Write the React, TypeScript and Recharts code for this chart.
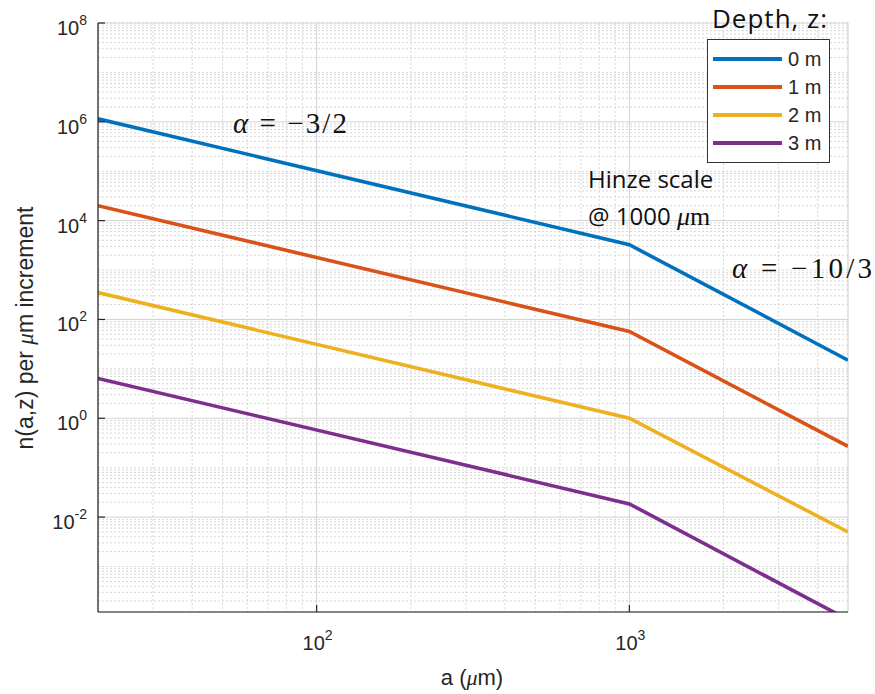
import React from 'react';
import {
  CartesianGrid,
  Customized,
  Legend,
  Line,
  LineChart,
  XAxis,
  YAxis,
} from 'recharts';

// droplet size a (µm) at the ends and at the Hinze break
const sizes = [20, 1000, 5000];

// n(a,z) per µm increment, one list per depth
const depth0 = [1.15e6, 3.25e3, 15];
const depth1 = [2.0e4, 57, 0.27];
const depth2 = [350, 1.0, 0.005];
const depth3 = [6.4, 0.0185, 8.4e-5];

const depthNames = ['0 m', '1 m', '2 m', '3 m'];
const depthColors = ['#0072BD', '#D95319', '#EDB120', '#7E2F8E'];

const xMajorTicks = [100, 1000];
const yMajorTicks = [1e-2, 1, 1e2, 1e4, 1e6, 1e8];

const xDomain = [20, 5000];
const yDomain = [1.2e-4, 1e8];

// minor ticks: every 1..9 multiple of each decade that is not a labelled tick
const minorMults = [1, 2, 3, 4, 5, 6, 7, 8, 9];
const xDecades = [10, 100, 1000];
const yDecades = [1e-4, 1e-3, 1e-2, 1e-1, 1, 10, 1e2, 1e3, 1e4, 1e5, 1e6, 1e7];

const minorTicks = (decades: number[], majors: number[], lo: number, hi: number) =>
  decades
    .flatMap((d) => minorMults.map((m) => m * d))
    .filter((v) => v >= lo * 0.999 && v <= hi * 1.001)
    .filter((v) => !majors.some((t) => Math.abs(v / t - 1) < 1e-6));

const xMinorTicks = minorTicks(xDecades, xMajorTicks, xDomain[0], xDomain[1]);
const yMinorTicks = minorTicks(yDecades, yMajorTicks, yDomain[0], yDomain[1]);

const data = sizes.map((a, i) => ({
  a,
  d0: depth0[i],
  d1: depth1[i],
  d2: depth2[i],
  d3: depth3[i],
}));

const INK = '#262626';
const SANS = '"Liberation Sans", Arial, sans-serif';
const SERIF = '"Liberation Serif", "DejaVu Serif", serif';
const NOTE = '"Open Sans", "Noto Sans", sans-serif';

const exponent = (v: number) => String(Math.round(Math.log10(v)));

function YMajorTick({ x, y, payload }: any) {
  return (
    <g>
      <line x1={x} x2={x + 7} y1={y} y2={y} stroke={INK} strokeWidth={1.2} />
      <text x={x - 11} y={y + 12} textAnchor="end" fontFamily={SANS} fontSize={20} fill={INK}>
        10
        <tspan dy={-10} fontSize={14}>
          {exponent(payload.value)}
        </tspan>
      </text>
    </g>
  );
}

function XMajorTick({ x, y, payload }: any) {
  return (
    <g>
      <line x1={x} x2={x} y1={y} y2={y - 7} stroke={INK} strokeWidth={1.2} />
      <text x={x + 1} y={y + 38} textAnchor="middle" fontFamily={SANS} fontSize={20} fill={INK}>
        10
        <tspan dy={-10} fontSize={14}>
          {exponent(payload.value)}
        </tspan>
      </text>
    </g>
  );
}

function YMinorTick({ x, y }: any) {
  return <line x1={x} x2={x + 4} y1={y} y2={y} stroke={INK} strokeWidth={1} />;
}

function XMinorTick({ x, y }: any) {
  return <line x1={x} x2={x} y1={y} y2={y - 4} stroke={INK} strokeWidth={1} />;
}

function DepthLegend({ payload }: any) {
  return (
    <div style={{ position: 'relative', width: 140, height: 160 }}>
      <div
        style={{
          position: 'absolute',
          left: 12,
          top: 1,
          fontFamily: NOTE,
          fontSize: 26,
          lineHeight: '34px',
          letterSpacing: 1,
          color: '#111',
          whiteSpace: 'nowrap',
        }}
      >
        Depth, z:
      </div>
      <div
        style={{
          position: 'absolute',
          left: 7,
          top: 39,
          width: 121,
          height: 117,
          border: '1px solid #333',
          background: '#fff',
          paddingTop: 5,
          boxSizing: 'content-box',
        }}
      >
        {(payload || []).map((p: any) => (
          <div key={p.value} style={{ display: 'flex', alignItems: 'center', height: 28 }}>
            <div style={{ marginLeft: 5, width: 69, height: 4, background: p.color }} />
            <span
              style={{
                marginLeft: 6,
                fontFamily: SANS,
                fontSize: 20,
                color: INK,
                whiteSpace: 'nowrap',
              }}
            >
              {p.value}
            </span>
          </div>
        ))}
      </div>
    </div>
  );
}

function Notes() {
  return (
    <g>
      <text
        x={30}
        y={325}
        transform="rotate(-90 33 325)"
        textAnchor="middle"
        fontFamily={SANS}
        fontSize={23}
        fill={INK}
      >
        n(a,z) per{' '}
        <tspan fontFamily={SERIF} fontStyle="italic">
          μ
        </tspan>
        m increment
      </text>
      <text x={472} y={685} textAnchor="middle" fontFamily={SANS} fontSize={22} fill={INK}>
        a (
        <tspan fontFamily={SERIF} fontStyle="italic">
          μ
        </tspan>
        m)
      </text>
      <text x={233} y={133} fontFamily={SERIF} fontSize={29} fill="#111" textLength={114} lengthAdjust="spacing">
        <tspan fontStyle="italic">α</tspan> = −3/2
      </text>
      <text x={732} y={278} fontFamily={SERIF} fontSize={29} fill="#111" textLength={140} lengthAdjust="spacing">
        <tspan fontStyle="italic">α</tspan> = −10/3
      </text>
      <text x={588} y={188} fontFamily={NOTE} fontSize={24} fill="#111">
        Hinze scale
      </text>
      <text x={588} y={225} fontFamily={NOTE} fontSize={24} fill="#111">
        @ 1000{' '}
        <tspan fontFamily={SERIF} fontStyle="italic" fontSize={26}>
          μ
        </tspan>
        <tspan fontFamily={SERIF} fontSize={26}>
          m
        </tspan>
      </text>
    </g>
  );
}

export default function App() {
  return (
    <div style={{ position: 'absolute', left: 0, top: 0, width: 875, height: 694, background: '#fff' }}>
      <LineChart width={875} height={694} data={data} margin={{ top: 23, right: 27, bottom: 0, left: 0 }}>
        {/* minor axes first so they sit on the plot edge with zero size */}
        <XAxis
          xAxisId="minor"
          dataKey="a"
          type="number"
          scale="log"
          domain={xDomain}
          allowDataOverflow
          ticks={xMinorTicks}
          interval={0}
          height={0}
          tickSize={0}
          tickMargin={0}
          axisLine={false}
          tickLine={false}
          tick={<XMinorTick />}
        />
        <YAxis
          yAxisId="minor"
          type="number"
          scale="log"
          domain={yDomain}
          allowDataOverflow
          ticks={yMinorTicks}
          interval={0}
          width={0}
          tickSize={0}
          tickMargin={0}
          axisLine={false}
          tickLine={false}
          tick={<YMinorTick />}
        />
        <XAxis
          xAxisId="major"
          dataKey="a"
          type="number"
          scale="log"
          domain={xDomain}
          allowDataOverflow
          ticks={xMajorTicks}
          interval={0}
          height={82}
          tickSize={0}
          tickMargin={0}
          axisLine={{ stroke: INK, strokeWidth: 1.2 }}
          tickLine={false}
          tick={<XMajorTick />}
        />
        <YAxis
          yAxisId="major"
          type="number"
          scale="log"
          domain={yDomain}
          allowDataOverflow
          ticks={yMajorTicks}
          interval={0}
          width={98}
          tickSize={0}
          tickMargin={0}
          axisLine={{ stroke: INK, strokeWidth: 1.2 }}
          tickLine={false}
          tick={<YMajorTick />}
        />
        <CartesianGrid xAxisId="minor" yAxisId="minor" stroke="#d6d6d6" strokeDasharray="2 2" />
        <CartesianGrid xAxisId="major" yAxisId="major" stroke="#d3d3d3" />
        {['d0', 'd1', 'd2', 'd3'].map((key, i) => (
          <Line
            key={key}
            xAxisId="major"
            yAxisId="major"
            type="linear"
            dataKey={key}
            name={depthNames[i]}
            stroke={depthColors[i]}
            strokeWidth={3.6}
            dot={false}
            activeDot={false}
            isAnimationActive={false}
          />
        ))}
        <Legend
          layout="vertical"
          align="center"
          verticalAlign="middle"
          content={<DepthLegend />}
          wrapperStyle={{ left: 700, top: 0, width: 140, height: 160 }}
        />
        <Customized component={<Notes />} />
      </LineChart>
    </div>
  );
}
